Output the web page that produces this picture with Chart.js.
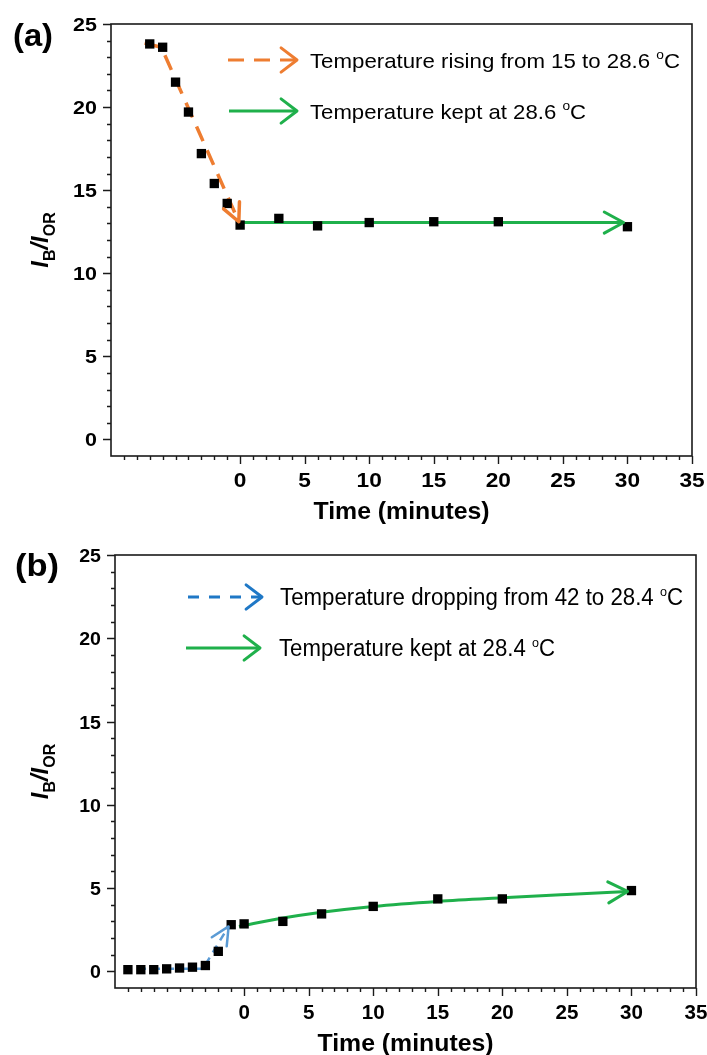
<!DOCTYPE html>
<html><head><meta charset="utf-8">
<script src="https://cdn.jsdelivr.net/npm/chart.js@4.4.1/dist/chart.umd.min.js"></script>
<style>
html,body{margin:0;padding:0;background:#fff;}
#wrap{position:relative;width:707px;height:1055px;overflow:hidden;}
canvas{position:absolute;left:0;}
</style></head><body>
<div id="wrap">
<canvas id="ca" width="707" height="528" style="top:0"></canvas>
<canvas id="cb" width="707" height="527" style="top:528px"></canvas>
</div>
<script>
// ---------- data ----------
const aTime  = [-7, -6, -5, -4, -3, -2, -1, 0, 3, 6, 10, 15, 20, 30];
const aRatio = [23.8, 23.6, 21.5, 19.7, 17.2, 15.4, 14.2, 12.9, 13.3, 12.85, 13.05, 13.1, 13.1, 12.8];
const aRiseTime  = [-7.4, -6.1, -0.1];
const aRiseRatio = [23.85, 23.6, 13.1];
const aKeptTime  = [0, 29.7];
const aKeptRatio = [13.05, 13.05];

const bTime  = [-9, -8, -7, -6, -5, -4, -3, -2, -1, 0, 3, 6, 10, 15, 20, 30];
const bRatio = [0.1, 0.1, 0.1, 0.15, 0.2, 0.25, 0.35, 1.2, 2.8, 2.85, 3.0, 3.45, 3.9, 4.35, 4.35, 4.85];
const bDropTime  = [-9.3, -3.2, -1.2];
const bDropRatio = [0.15, 0.15, 2.7];
const bKeptTime  = [-0.4, 3, 6, 10, 15, 20, 25, 29.7];
const bKeptRatio = [2.7, 3.2, 3.55, 3.9, 4.2, 4.42, 4.62, 4.8];

const xTickValues = [0, 5, 10, 15, 20, 25, 30, 35];
const yTickValues = [0, 5, 10, 15, 20, 25];
const xTitle = 'Time (minutes)';
const legendA = ['Temperature rising from 15 to 28.6 ', 'Temperature kept at 28.6 '];
const legendB = ['Temperature dropping from 42 to 28.4 ', 'Temperature kept at 28.4 '];

// ---------- helpers ----------
const FONT = "'Liberation Sans', Arial, Helvetica, sans-serif";
const ORANGE = '#ee7d31', GREEN = '#1fb04b', BLUE = '#5b9bd5', BLUE_L = '#1f78c6';
const pts = (xs, ys) => xs.map((x, i) => ({x, y: ys[i]}));

function txt(ctx, segs, x, y, opt) {
  opt = opt || {};
  let w = 0;
  segs.forEach(s => { ctx.font = s.f; s.w = ctx.measureText(s.t).width; w += s.w; });
  const sc = opt.width ? opt.width / w : (opt.sx || 1);
  ctx.save();
  ctx.translate(x, y);
  if (opt.rot) ctx.rotate(opt.rot);
  ctx.scale(sc, 1);
  let cx = opt.align === 'center' ? -w / 2 : opt.align === 'right' ? -w : 0;
  ctx.fillStyle = opt.color || '#000';
  ctx.textBaseline = 'alphabetic'; ctx.textAlign = 'left';
  segs.forEach(s => { ctx.font = s.f; ctx.fillText(s.t, cx, s.dy || 0); cx += s.w; });
  ctx.restore();
}
function head(ctx, x, y, ang, len, spread, color, lw) {
  ctx.save();
  ctx.strokeStyle = color; ctx.lineWidth = lw; ctx.setLineDash([]);
  ctx.lineCap = 'round'; ctx.lineJoin = 'round';
  ctx.beginPath();
  ctx.moveTo(x + len * Math.cos(ang + Math.PI - spread), y + len * Math.sin(ang + Math.PI - spread));
  ctx.lineTo(x, y);
  ctx.lineTo(x + len * Math.cos(ang + Math.PI + spread), y + len * Math.sin(ang + Math.PI + spread));
  ctx.stroke();
  ctx.restore();
}
function legendArrow(ctx, x0, x1, y, color, dash, lw) {
  ctx.save();
  ctx.strokeStyle = color; ctx.lineWidth = lw; ctx.setLineDash(dash || []);
  ctx.beginPath(); ctx.moveTo(x0, y); ctx.lineTo(x1 - 1, y); ctx.stroke();
  ctx.restore();
  head(ctx, x1, y, 0, 20, 0.65, color, lw);
}

function decoPlugin(cfg) {
  return {
    id: 'deco' + cfg.id,
    afterDatasetsDraw(chart) {
      const ctx = chart.ctx;
      chart.data.datasets.forEach((ds, i) => {
        if (!ds.arrow) return;
        const els = chart.getDatasetMeta(i).data;
        const p = els[els.length - 1], q = els[els.length - 2];
        let px = q.x, py = q.y;
        if (p.cp1x !== undefined && Math.hypot(p.cp1x - p.x, p.cp1y - p.y) > 1) { px = p.cp1x; py = p.cp1y; }
        const ang = Math.atan2(p.y - py, p.x - px);
        head(ctx, p.x, p.y, ang, ds.arrow.len, ds.arrow.spread, ds.borderColor, ds.borderWidth);
      });
    },
    afterDraw(chart) {
      const ctx = chart.ctx, ca = chart.chartArea, xs = chart.scales.x, ys = chart.scales.y;
      ctx.save();
      ctx.strokeStyle = '#1a1a1a'; ctx.lineWidth = 1.6;
      ctx.strokeRect(ca.left, ca.top, ca.right - ca.left, ca.bottom - ca.top);
      ctx.lineWidth = 1.4;
      ctx.beginPath();
      for (let v = Math.ceil(xs.min) + 1; v <= xs.max; v++) {
        const major = xTickValues.includes(v);
        const X = Math.round(xs.getPixelForValue(v)) + 0.5;
        ctx.moveTo(X, ca.bottom); ctx.lineTo(X, ca.bottom + (major ? 8 : 4));
      }
      for (let v = 0; v <= ys.max; v++) {
        const major = yTickValues.includes(v);
        const Y = Math.round(ys.getPixelForValue(v)) + 0.5;
        ctx.moveTo(ca.left, Y); ctx.lineTo(ca.left - (major ? 8 : 4), Y);
      }
      ctx.stroke();
      ctx.restore();
      // tick labels
      xTickValues.forEach(v => txt(ctx, [{t: String(v), f: `bold 21px ${FONT}`}],
        xs.getPixelForValue(v), ca.bottom + 31, {align: 'center', sx: cfg.tickSx}));
      yTickValues.forEach(v => txt(ctx, [{t: String(v), f: `bold 19px ${FONT}`}],
        ca.left - 14, ys.getPixelForValue(v) + 7, {align: 'right', sx: cfg.tickSx + 0.05}));
      // axis titles
      txt(ctx, [{t: xTitle, f: `bold 24px ${FONT}`}], (ca.left + ca.right) / 2, ca.bottom + 63, {align: 'center', width: 176});
      const big = `italic bold 24px ${FONT}`, sub = `bold 16px ${FONT}`;
      txt(ctx, [{t: 'I', f: big}, {t: 'B', f: sub, dy: 7}, {t: '/', f: big}, {t: 'I', f: big}, {t: 'OR', f: sub, dy: 7}],
        48, (ca.top + ca.bottom) / 2, {rot: -Math.PI / 2, align: 'center'});
      // panel label
      txt(ctx, [{t: cfg.label, f: `bold 32px ${FONT}`}], cfg.labelX, cfg.labelY, {width: cfg.labelW});
      // legend annotations
      cfg.legend.forEach(L => {
        legendArrow(ctx, L.x0, L.x1, L.y, L.color, L.dash, 3);
        const f = `${cfg.legendSize}px ${FONT}`;
        txt(ctx, [{t: L.text, f}, {t: 'o', f: `13px ${FONT}`, dy: -9}, {t: 'C', f}], L.tx, L.y + 8, {width: L.tw});
      });
    }
  };
}

function makeChart(cfg) {
  return new Chart(document.getElementById(cfg.id), {
    type: 'scatter',
    data: {datasets: [
      {data: pts(cfg.t, cfg.r), pointStyle: 'rect', pointRadius: 6.6, pointHoverRadius: 6.6,
       backgroundColor: '#000', borderColor: '#000', borderWidth: 0, showLine: false, order: 0},
      {data: pts(cfg.fitT, cfg.fitR), showLine: true, borderColor: cfg.fitColor, borderWidth: cfg.fitW,
       borderDash: cfg.fitDash, pointRadius: 0, tension: 0, order: 2, arrow: {len: 20, spread: 0.45}},
      {data: pts(cfg.keptT, cfg.keptR), showLine: true, borderColor: GREEN, borderWidth: 3,
       pointRadius: 0, tension: 0.4, cubicInterpolationMode: 'monotone', order: 1, arrow: {len: 22, spread: 0.5}}
    ]},
    options: {
      responsive: false, animation: false, events: [],
      layout: {padding: {left: 0, right: cfg.padRight, top: cfg.padTop, bottom: 0}},
      plugins: {legend: {display: false}, tooltip: {enabled: false}},
      scales: {
        x: {type: 'linear', min: -10, max: 35,
            afterBuildTicks: s => { s.ticks = xTickValues.map(v => ({value: v})); },
            afterFit: s => { s.height = cfg.xH; },
            grid: {display: false}, border: {display: false}, ticks: {display: false}},
        y: {type: 'linear', min: -1, max: 25,
            afterBuildTicks: s => { s.ticks = yTickValues.map(v => ({value: v})); },
            afterFit: s => { s.width = cfg.yW; },
            grid: {display: false}, border: {display: false}, ticks: {display: false}}
      }
    },
    plugins: [decoPlugin(cfg)]
  });
}

makeChart({
  id: 'ca', padTop: 24, padRight: 15, yW: 111, xH: 72, tickSx: 1.08, legendSize: 21,
  t: aTime, r: aRatio, fitT: aRiseTime, fitR: aRiseRatio, fitColor: ORANGE, fitW: 3.5, fitDash: [16, 10],
  keptT: aKeptTime, keptR: aKeptRatio,
  label: '(a)', labelX: 13, labelY: 46, labelW: 40,
  legend: [
    {x0: 228, x1: 297, y: 60, color: ORANGE, dash: [16, 10], text: legendA[0], tx: 310, tw: 370},
    {x0: 229, x1: 297, y: 111, color: GREEN, dash: [], text: legendA[1], tx: 310, tw: 276}
  ]
});
makeChart({
  id: 'cb', padTop: 27, padRight: 11, yW: 115, xH: 67, tickSx: 0.98, legendSize: 23,
  t: bTime, r: bRatio, fitT: bDropTime, fitR: bDropRatio, fitColor: BLUE, fitW: 2.5, fitDash: [8, 6],
  keptT: bKeptTime, keptR: bKeptRatio,
  label: '(b)', labelX: 15, labelY: 48, labelW: 44,
  legend: [
    {x0: 188, x1: 262, y: 69, color: BLUE_L, dash: [11, 10], text: legendB[0], tx: 280, tw: 403},
    {x0: 186, x1: 260, y: 120, color: GREEN, dash: [], text: legendB[1], tx: 279, tw: 276}
  ]
});
</script>
</body></html>
